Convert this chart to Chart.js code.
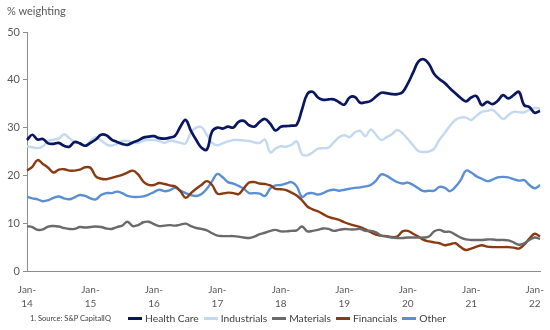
<!DOCTYPE html>
<html>
<head>
<meta charset="utf-8">
<script src="https://cdn.jsdelivr.net/npm/chart.js@4.4.1/dist/chart.umd.min.js"></script>
<style>
  html, body { margin: 0; padding: 0; background: #fff; }
  #wrap { position: relative; width: 550px; height: 330px; overflow: hidden; }
  #c { position: absolute; left: 0; top: 0; }
  .txt { position: absolute; font-family: Lato, "Open Sans", sans-serif; color: #595959; white-space: nowrap; }
  #ytitle { left: 7px; top: 4px; font-size: 11px; }
  #source { left: 30px; top: 314px; font-size: 7.5px; color: #404040; }
  #legend { position: absolute; left: 128px; top: 310px; height: 16px; display: flex; align-items: center;
            font-family: Lato, "Open Sans", sans-serif; font-size: 10.3px; color: #404040; white-space: nowrap; }
  .item { display: flex; align-items: center; margin-right: 5px; }
  .swatch { width: 14px; height: 3px; margin-right: 3px; }
</style>
</head>
<body>
<div id="wrap">
  <canvas id="c" width="550" height="330"></canvas>
  <div class="txt" id="ytitle">% weighting</div>
  <div class="txt" id="source">1. Source: S&amp;P CapitalIQ</div>
  <div id="legend"></div>
</div>
<script>
// ---- categories: monthly, Jan-14 .. Feb-22 ----
const years = [14, 15, 16, 17, 18, 19, 20, 21, 22];
const monthNames = ['Jan','Feb','Mar','Apr','May','Jun','Jul','Aug','Sep','Oct','Nov','Dec'];
const months = [];
for (const y of years) for (const m of monthNames) months.push(m + '-' + y);
months.length = 98;

// ---- y ticks ----
const yTicks = [0, 10, 20, 30, 40, 50];

// ---- series (% weighting) ----
const healthCare = [27.4,28.5,27.5,27.6,26.7,26.6,26.8,26.2,26.0,27.0,26.7,26.2,
  26.8,27.5,28.5,28.4,27.5,27.0,26.6,26.4,26.9,27.3,27.9,28.1,
  28.2,27.8,27.7,27.9,28.3,30.2,31.6,29.3,27.4,25.8,25.4,29.2,
  30.0,29.8,30.2,30.0,31.2,31.4,30.5,30.2,31.2,31.8,30.8,29.4,
  30.2,30.3,30.4,30.6,33.8,37.0,37.5,36.3,35.8,35.9,35.9,35.3,
  34.8,36.3,36.4,35.2,35.3,35.6,36.5,37.3,37.2,37.0,37.0,37.4,
  39.2,41.5,43.8,44.3,43.3,41.2,40.1,39.3,38.2,37.2,36.2,35.5,
  36.3,36.6,34.7,35.4,34.9,35.6,36.8,36.1,36.8,37.5,34.7,34.3,
  33.1,33.5];
const industrials = [26.1,25.9,25.7,26.1,27.2,27.5,27.7,28.6,27.8,27.0,26.6,26.2,
  27.2,28.0,27.3,26.5,26.2,26.6,27.2,27.2,26.9,26.8,27.3,27.4,
  27.4,27.2,26.8,27.3,27.1,26.8,26.7,29.0,30.0,30.1,28.5,26.8,
  26.3,26.7,27.1,27.4,27.4,27.3,27.2,26.9,26.8,27.5,24.8,25.6,
  26.1,26.0,26.4,27.1,24.4,24.2,24.8,25.6,25.7,25.8,26.9,28.0,
  28.4,28.0,29.0,29.3,28.2,29.6,28.5,27.4,28.0,28.6,29.5,28.8,
  27.6,26.3,25.1,24.9,25.0,25.6,27.5,28.9,30.4,31.6,32.1,32.1,
  31.6,32.5,33.3,33.5,33.7,32.8,31.8,32.6,33.3,33.2,33.2,33.7,
  34.1,34.0];
const materials = [9.4,9.2,8.6,8.7,9.3,9.4,9.3,9.0,8.8,8.8,9.2,9.1,
  9.2,9.3,9.2,8.9,8.8,9.2,9.5,10.3,9.4,9.6,10.2,10.3,
  9.8,9.4,9.5,9.6,9.5,9.7,9.9,9.4,9.0,8.8,8.5,7.9,
  7.4,7.3,7.3,7.3,7.2,7.0,6.9,7.2,7.7,8.0,8.4,8.6,
  8.3,8.3,8.4,8.5,9.3,8.3,8.4,8.6,8.9,8.8,8.4,8.6,
  8.8,8.7,8.7,8.8,8.4,8.4,8.1,7.4,7.2,7.0,6.9,6.9,
  7.0,7.0,7.0,7.0,7.2,8.3,8.6,8.2,8.2,7.6,7.0,6.6,
  6.5,6.5,6.5,6.6,6.6,6.5,6.5,6.4,6.0,5.5,5.8,6.5,
  7.0,6.7];
const financials = [21.0,21.8,23.2,22.4,21.6,20.6,21.2,21.3,21.0,21.0,21.2,21.7,
  21.6,19.8,19.3,19.2,19.5,19.8,20.1,20.6,21.0,20.2,18.7,18.0,
  18.0,18.4,18.2,17.9,17.7,16.7,15.3,16.3,17.2,18.0,18.8,18.0,
  16.2,16.2,16.4,16.3,16.1,17.3,18.5,18.6,18.3,18.2,17.9,17.2,
  17.1,16.9,16.4,15.8,14.8,13.5,12.9,12.5,11.9,11.3,11.0,10.7,
  10.2,9.8,9.5,9.2,8.7,8.1,7.6,7.4,7.3,7.1,7.2,8.3,
  8.4,7.8,7.2,6.5,6.2,6.0,5.8,5.4,5.6,5.8,5.0,4.4,
  4.7,5.1,5.4,5.1,5.0,5.0,5.0,5.0,4.9,4.7,5.5,6.8,
  7.8,7.2];
const other = [15.5,15.2,15.0,14.6,14.8,15.3,15.6,15.2,15.0,15.4,15.9,15.7,
  15.2,15.0,15.9,16.3,16.3,16.6,16.3,15.7,15.5,15.5,15.6,16.0,
  16.5,17.0,16.7,16.9,17.4,16.8,16.3,15.9,15.7,16.1,17.2,18.8,
  20.3,19.6,18.6,18.3,17.8,17.2,16.3,16.3,16.2,15.7,17.3,17.9,
  18.0,18.3,18.6,17.7,15.5,16.2,16.3,16.0,16.3,16.8,17.0,16.8,
  17.0,17.2,17.4,17.5,17.7,18.0,18.9,20.2,19.9,19.2,18.6,18.3,
  18.5,18.0,17.3,16.7,16.8,16.8,17.6,17.4,16.7,17.6,19.0,21.0,
  20.6,19.8,19.3,18.8,19.1,19.6,19.7,19.6,19.2,18.9,19.0,18.0,
  17.3,18.0];

const seriesNames = ['Health Care', 'Industrials', 'Materials', 'Financials', 'Other'];
const seriesData = [healthCare, industrials, materials, financials, other];
const seriesColors = ['#0b1661', '#c3d8f1', '#6a6a6a', '#8a3a12', '#5a8fd6'];
const seriesWidths = [2.7, 2.4, 2.4, 2.4, 2.4];

const datasets = seriesNames.map((name, i) => ({
  label: name,
  data: seriesData[i],
  borderColor: seriesColors[i],
  backgroundColor: seriesColors[i],
  borderWidth: seriesWidths[i],
  pointRadius: 0,
  tension: 0.4,
  fill: false
}));

// HTML legend built from the series definitions
const legendEl = document.getElementById('legend');
seriesNames.forEach((name, i) => {
  const it = document.createElement('div');
  it.className = 'item';
  const sw = document.createElement('div');
  sw.className = 'swatch';
  sw.style.background = seriesColors[i];
  const t = document.createElement('span');
  t.textContent = name;
  it.appendChild(sw); it.appendChild(t);
  legendEl.appendChild(it);
});

new Chart(document.getElementById('c'), {
  type: 'line',
  data: { labels: months, datasets },
  options: {
    responsive: false,
    devicePixelRatio: 1,
    animation: false,
    layout: { padding: { top: 32, right: 10, bottom: 0, left: 0 } },
    plugins: { legend: { display: false }, tooltip: { enabled: false } },
    scales: {
      x: {
        type: 'category',
        offset: false,
        grid: { display: false },
        border: { display: true, color: '#8c8c8c', width: 1 },
        afterFit: (s) => { s.height = 59; },
        ticks: {
          autoSkip: false,
          maxRotation: 0,
          padding: 4,
          color: '#595959',
          font: { family: 'Lato, "Open Sans", sans-serif', size: 10, lineHeight: 1.4 },
          callback: function (val, idx) {
            return idx % 12 === 0 ? ['Jan-', String(years[idx / 12])] : null;
          }
        }
      },
      y: {
        min: yTicks[0],
        max: yTicks[yTicks.length - 1],
        afterFit: (s) => { s.width = 27; },
        afterBuildTicks: (s) => { s.ticks = yTicks.map(v => ({ value: v })); },
        grid: { drawOnChartArea: false, drawTicks: true, tickLength: 4, color: '#8c8c8c' },
        border: { display: true, color: '#8c8c8c', width: 1 },
        ticks: {
          padding: 3,
          color: '#595959',
          font: { family: 'Lato, "Open Sans", sans-serif', size: 11 }
        }
      }
    }
  }
});
</script>
</body>
</html>
